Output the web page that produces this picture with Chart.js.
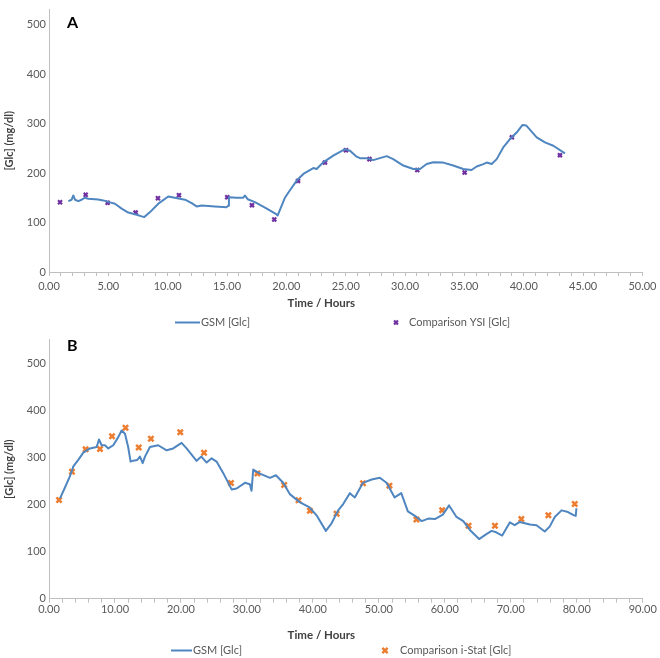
<!DOCTYPE html>
<html><head><meta charset="utf-8">
<script src="https://cdn.jsdelivr.net/npm/chart.js@4/dist/chart.umd.min.js"></script>
<style>
html,body{margin:0;padding:0;background:#fff;}
#wA{position:absolute;left:0;top:0;width:660px;height:330px;}
#wB{position:absolute;left:0;top:330px;width:660px;height:328px;}
</style></head>
<body>
<div id="wA"><canvas id="cA" width="660" height="330"></canvas></div>
<div id="wB"><canvas id="cB" width="660" height="328"></canvas></div>
<script>
// ---------- Panel A data ----------
const gsmA_t = [1.63,1.91,2.05,2.19,2.47,2.75,3.03,3.31,4.15,4.57,5.14,5.56,6.12,6.68,7.25,7.81,8.03,8.51,9.21,10.05,10.6,11.46,12.02,12.44,12.86,13.98,14.97,15.1,15.16,15.8,16.37,16.5,16.74,17.35,18.2,19.18,19.26,19.88,20.3,20.87,21.43,22.27,22.55,23.1,23.95,24.94,25.36,25.92,26.2,26.77,27.32,27.88,28.45,29.0,29.85,30.7,31.26,31.82,32.38,33.22,34.06,34.9,35.6,36.03,36.59,36.87,37.3,37.72,38.27,38.84,39.4,39.9,40.2,41.09,41.79,42.49,43.47];
const gsmA_v = [143,146,154.6,146,143,146,150,148,146.6,144.6,140.6,138,128,120,116.5,112.4,111,121,138,152.6,150,146,139,132.5,134.5,132.5,131,134,151,150,150,154.6,147,141,130,116.5,114,150,165,184.7,198,210,208,221.5,235,248,245,233,230,230,226,230,234,228,215,208,208,218,221.5,221,215,208,206,213,218,221,218,228,251.6,268.5,281.7,297,296,272,261.7,255,239.6];
const ysi_t = [0.93,3.09,4.94,7.3,9.18,10.95,15.02,17.1,18.98,20.98,23.25,25.02,27.0,31.03,35.02,39.0,43.05];
const ysi_v = [141,156,140,120,149,155,151,135,106,184,221,246,228,206,201,272,236];

// ---------- Panel B data ----------
const gsmB_t = [1.67,2.42,3.18,3.69,4.44,5.2,6.21,7.22,7.58,7.98,8.48,8.99,9.74,10.5,11.0,11.52,12.0,12.37,12.77,13.38,13.79,14.2,14.55,15.3,16.56,17.83,18.83,20.1,20.86,22.37,23.1,23.9,24.65,25.4,26.4,27.68,28.44,29.7,30.45,30.7,30.96,31.97,33.5,34.4,35.5,36.5,38.0,39.5,40.56,41.97,42.83,43.83,44.6,45.6,46.36,47.6,48.9,50.15,51.16,52.4,53.4,54.4,55.7,56.5,57.5,58.5,59.7,60.65,61.77,62.8,63.8,65.2,66.3,67.1,67.8,68.7,69.85,70.6,71.36,72.9,73.9,75.15,75.9,76.67,77.7,78.68,79.6,79.85,79.95];
const gsmB_v = [213,236,260,281,294.6,310,319,322,338,325.7,325.7,319,325.7,343,357,350,322,291,293,294.6,301.6,287.8,301.6,322,325.7,315,319,330.7,319,292.6,301.6,289,298,291,267,232,234,246,243,229,274,265.6,256.6,262,246,222,205,194,177,144,160,187.5,201,224,215,246,253,256.6,246,215,224,185.5,173.6,164.7,170,169,178.4,198,173.6,164.7,146,126.6,137,144,141,134,162,156,163,157.7,156,142.5,153,173.6,187.5,184,177,175.7,192];
const istat_t = [1.52,3.48,5.55,7.73,9.55,11.6,13.6,15.45,19.9,23.5,27.58,31.6,35.65,37.83,39.55,43.6,47.6,51.6,55.7,59.6,63.6,67.6,71.6,75.7,79.7];
const istat_v = [209.5,269.7,317,318,345,363,321,339.6,353.5,310,245.6,266,241.5,209,186.7,180.5,245,240,168,188,155,155,169,177,201];

// ---------- labels ----------
const seriesLineLabel = 'GSM [Glc]';
const seriesA2Label = 'Comparison YSI [Glc]';
const seriesB2Label = 'Comparison i-Stat [Glc]';
const xTitle = 'Time / Hours';
const yTitle = '[Glc] (mg/dl)';

const FONT = 'Lato, "Open Sans", sans-serif';
const LINE_COL = '#4f86c0';
const AXIS_COL = '#bfbfbf';
const TXT_COL = '#595959';

function pts(t, v){ return t.map((x,i)=>({x:x, y:v[i]})); }

const panelPlugin = {
  id: 'panelDeco',
  afterDraw(chart, args, o){
    const ctx = chart.ctx; const ds = chart.data.datasets;
    ctx.save();
    // panel letter
    ctx.font = 'bold 16px ' + FONT; ctx.fillStyle = '#000';
    ctx.textBaseline = 'middle'; ctx.textAlign = 'left';
    ctx.fillText(o.letter, o.lx, o.ly);
    // legend
    ctx.font = '11px ' + FONT; ctx.fillStyle = TXT_COL;
    ctx.strokeStyle = ds[0].borderColor; ctx.lineWidth = 2;
    ctx.beginPath(); ctx.moveTo(o.l1, o.y); ctx.lineTo(o.l1 + o.lw, o.y); ctx.stroke();
    ctx.fillText(ds[0].label, o.l1 + o.lw + 1, o.y);
    ctx.strokeStyle = ds[1].borderColor; ctx.lineWidth = ds[1].borderWidth;
    Chart.helpers.drawPoint(ctx, {pointStyle:'crossRot', radius: ds[1].pointRadius, borderWidth: ds[1].borderWidth, rotation:0}, o.m, o.y);
    ctx.fillStyle = TXT_COL;
    ctx.fillText(ds[1].label, o.t2, o.y);
    ctx.restore();
  }
};

function makeChart(id, cfg){
  return new Chart(document.getElementById(id), {
    type: 'scatter',
    data: { datasets: [
      { label: seriesLineLabel, data: pts(cfg.lt, cfg.lv), showLine: true, borderColor: LINE_COL, backgroundColor: LINE_COL,
        borderWidth: 2, pointRadius: 0, tension: 0, borderJoinStyle: 'round' },
      { label: cfg.mLabel, data: pts(cfg.mt, cfg.mv), showLine: false, pointStyle: 'crossRot', pointRadius: cfg.mr,
        borderColor: cfg.mc, backgroundColor: cfg.mc, borderWidth: cfg.mw }
    ]},
    plugins: [panelPlugin],
    options: {
      responsive: false, animation: false, devicePixelRatio: 1,
      layout: { padding: cfg.pad },
      plugins: {
        legend: { display: false }, tooltip: { enabled: false },
        title: { display: true, position: 'bottom', text: xTitle, color: '#404040',
          font: { family: FONT, size: 11.5, weight: 'bold' }, padding: { top: 0, bottom: 0 } },
        panelDeco: cfg.deco
      },
      scales: {
        x: { type: 'linear', min: 0, max: cfg.xmax,
          afterFit(s){ s.height = cfg.xh; },
          ticks: { stepSize: cfg.xminor, autoSkip: false, maxRotation: 0, color: TXT_COL, padding: cfg.xpad,
            font: { family: FONT, size: 11 },
            callback(v){ return (Math.abs(v % cfg.xmajor) < 1e-6) ? v.toFixed(2) : ''; } },
          grid: { display: true, drawOnChartArea: false, drawTicks: true, tickLength: 4, color: AXIS_COL },
          border: { display: true, color: AXIS_COL }
        },
        y: { type: 'linear', min: 0, max: cfg.ymax,
          afterFit(s){ s.width = 49; },
          ticks: { stepSize: 100, color: TXT_COL, padding: 3, font: { family: FONT, size: 11 },
            callback(v){ return (v % 100 === 0) ? String(v) : ''; } },
          grid: { display: false, drawTicks: false },
          border: { display: true, color: AXIS_COL },
          title: { display: true, text: yTitle, color: '#404040', font: { family: FONT, size: 11, weight: 'bold' },
            padding: { top: 3, bottom: 0 } }
        }
      }
    }
  });
}

makeChart('cA', {
  lt: gsmA_t, lv: gsmA_v, mt: ysi_t, mv: ysi_v, mLabel: seriesA2Label,
  mc: '#7030a0', mr: 2.8, mw: 2.2,
  xmax: 50, xmajor: 5, xminor: 1, ymax: 530, xh: 24.2, xpad: 3.5,
  pad: { top: 8, right: 17.3, bottom: 20, left: 0 },
  deco: { letter: 'A', lx: 67, ly: 22.5, y: 322.5, l1: 175, lw: 25, m: 396, t2: 409 }
});
makeChart('cB', {
  lt: gsmB_t, lv: gsmB_v, mt: istat_t, mv: istat_v, mLabel: seriesB2Label,
  mc: '#ed7d31', mr: 3.7, mw: 2.5,
  xmax: 90, xmajor: 10, xminor: 2, ymax: 550, xh: 30, xpad: 0.5,
  pad: { top: 3.6, right: 17.3, bottom: 15.5, left: 0 },
  deco: { letter: 'B', lx: 67, ly: 15.8, y: 320.5, l1: 171, lw: 21, m: 385, t2: 400 }
});
</script>
</body></html>
